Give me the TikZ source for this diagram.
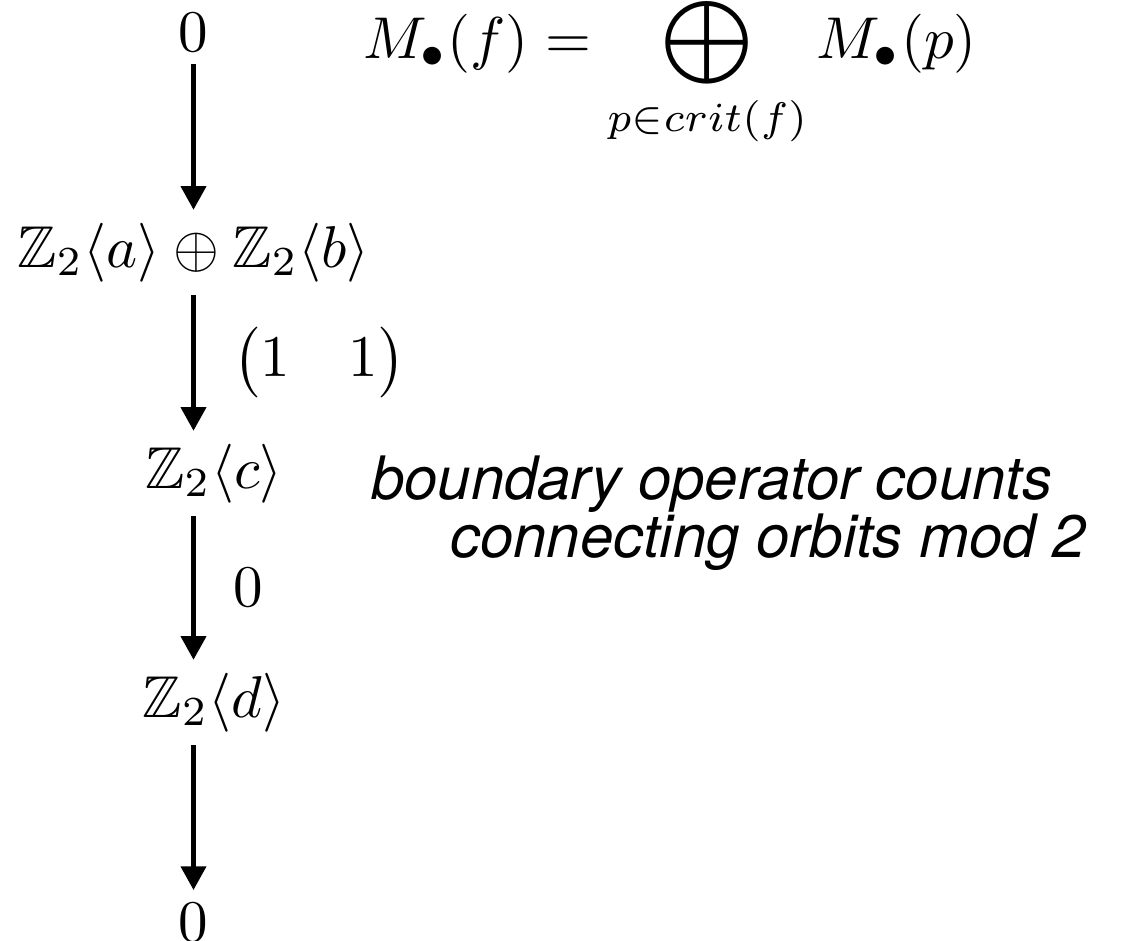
\documentclass[tikz,border=0pt]{standalone}
\usepackage{amsmath,amssymb}
\usepackage{fontspec}
\newfontfamily\notefont{TeX Gyre Heros}
\usetikzlibrary{arrows.meta}

\begin{document}
\begin{tikzpicture}[x=0.05957mm, y=-0.05957mm,
  group/.style={inner sep=2pt, anchor=base},
  map/.style={-{Triangle[length=4pt,width=4.2pt]}, line width=0.75pt},
  lbl/.style={midway, right=3pt}]
\useasboundingbox (0,0) rectangle (1121,940);
\coordinate (axis) at (193.5,0);
% the chain complex
\node[group] (top0) at (193.5,51) {$0$};
\node[group] (ab) at (193.5,267) {$\mathbb{Z}_2\langle a\rangle \oplus \mathbb{Z}_2\langle b\rangle$};
\node[group] (c) at (214,488) {$\mathbb{Z}_2\langle c\rangle$};
\node[group] (d) at (214,717) {$\mathbb{Z}_2\langle d\rangle$};
\node[group] (bot0) at (193.5,941) {$0$};
\draw[map] (top0) -- (ab);
\draw[map] (ab) -- (c.north -| axis) node[lbl] {$\begin{pmatrix}1 & 1\end{pmatrix}$};
\draw[map] (c.south -| axis) -- (d.north -| axis) node[lbl] {$0$};
\draw[map] (d.south -| axis) -- (bot0);
% Morse complex
\node[inner sep=0, anchor=base] (morse) at (670,58)
  {$\displaystyle M_\bullet(f) = \bigoplus_{p\in crit(f)} M_\bullet(p)$};
\node[inner sep=0, anchor=base west, align=left,
  font=\notefont\itshape\fontsize{10.15}{9.8}\selectfont] (note) at (370,557)
  {boundary operator counts\\\hspace*{13.4pt}connecting orbits mod 2};
\end{tikzpicture}
\end{document}
